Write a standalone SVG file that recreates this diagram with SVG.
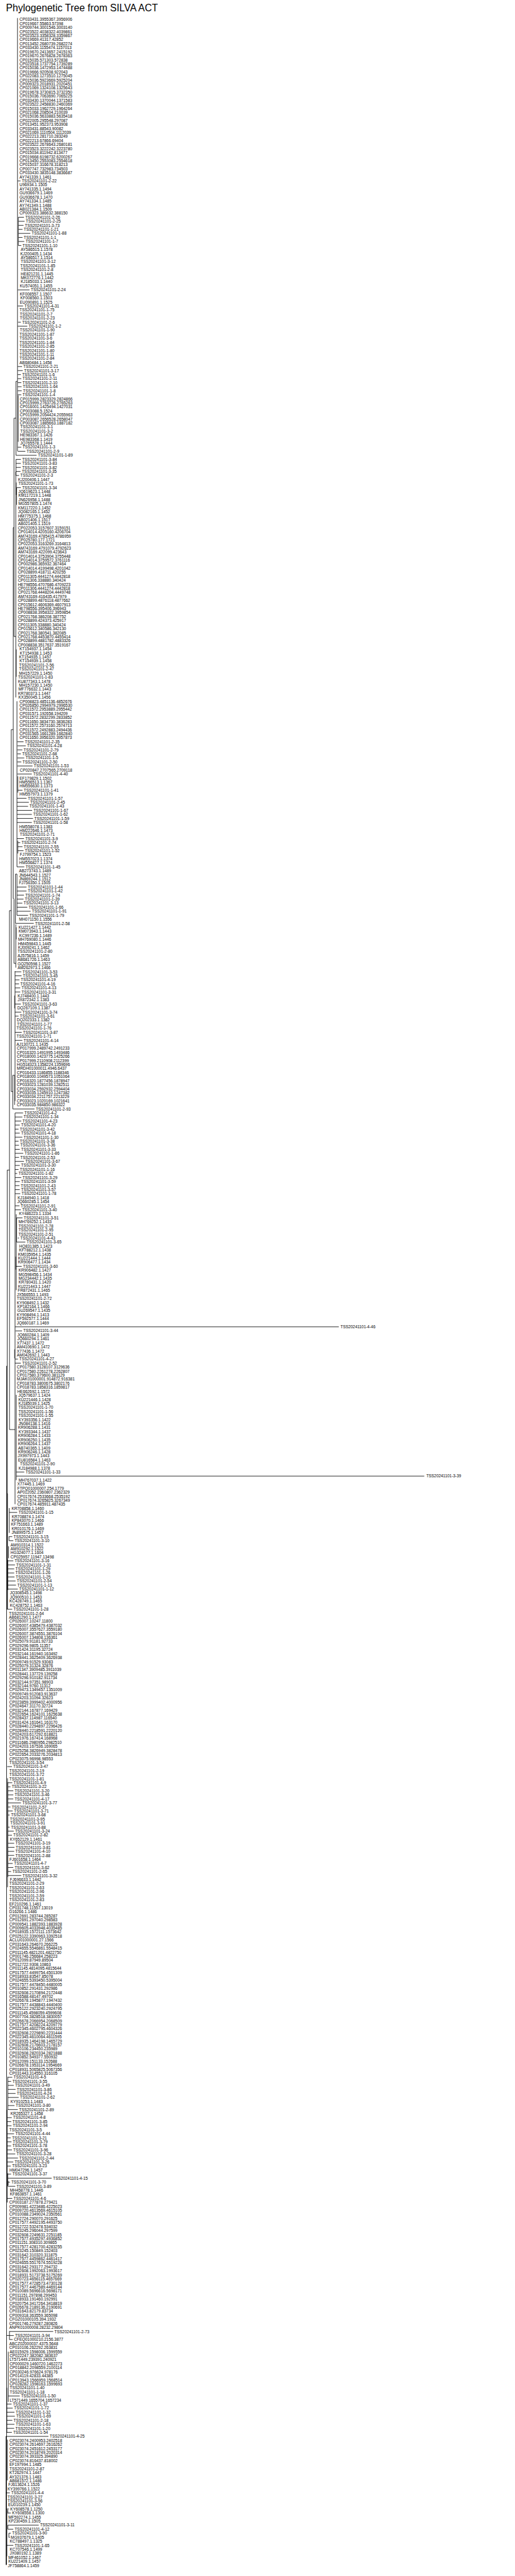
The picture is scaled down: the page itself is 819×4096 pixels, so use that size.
<svg xmlns="http://www.w3.org/2000/svg" width="819" height="4096" viewBox="0 0 819 4096">
<style>
text{font-family:"Liberation Sans",Arial,sans-serif;font-size:9.4px;fill:#000}
.t{font-size:23px}
.e{fill:none;stroke:#000;stroke-width:1.2}
</style>
<rect width="819" height="4096" fill="#fff"/>
<g transform="scale(0.682)">
<g id="title"><text class="t" x="14" y="27">Phylogenetic Tree from SILVA ACT</text></g>
<g id="connectors">
<path class="e" d="M41.4 421.9H47.9M42.8 506.5H55.9M42.8 516H57.3M42.8 525.4H54.9M42.8 534.8H52.4M42.8 544.2H70.7M42.8 553.6H52.4M42.8 563H56.6M42.8 572.4H49.6M41.4 675.9H68.9M41.4 713.5H53.8M42.1 751.1H48.6M41.4 760.5H63.6M41.4 854.6H51.4M41.4 864H53.1M41.4 873.4H48.6M41.4 882.8H49.6M41.4 892.2H49.6M41.4 901.6H50.3M41.4 911H50.7M41.4 920.5H49.6M41.4 1042.7H49.6M41.4 1052.2H59.1M37.2 1061.6H85.4M37.2 1071H48.6M37.2 1080.4H48.6M37.2 1089.8H48.6M37.2 1099.2H47.9M37.2 1108.6H44.4M38.6 1136.8H48.6M40.3 1729.5H54.9M40.3 1738.9H60.1M40.3 1748.3H52.1M40.3 1757.7H48.6M40.3 1767.1H56.6M40.3 1776.5H49.6M40.3 1785.9H75.9M40.3 1804.7H74.2M41.4 1842.3H52.4M39.6 1861.2H61.9M39.6 1870.6H67.2M39.6 1880H65.4M39.6 1889.4H74.9M39.6 1898.8H74.2M39.6 1908.2H77M39.6 1917.6H74.2M39.6 1955.2H55.9M41.4 1964.6H47.2M41.4 1974H52.4M41.4 1983.4H54.9M39.6 2021.1H56.6M39.6 2068.1H61.9M39.6 2077.5H61.9M39.6 2086.9H55.9M39.6 2096.3H54.9M39.6 2105.7H52.1M39.6 2115.1H63.6M39.6 2124.6H71.4M39.6 2134H65.4M36.1 2152.8H78.7M35.1 2265.7H49.6M35.1 2275.1H50.3M35.1 2284.5H45.4M35.1 2293.9H44.4M35.1 2303.3H47.2M35.1 2312.7H47.2M35.1 2340.9H48.6M35.1 2359.7H49.6M35.1 2369.1H43.3M35.1 2406.8H50.7M35.1 2425.6H52.1M29.8 2585.5H80.5M35.1 2594.9H53.8M35.1 2604.3H52.1M35.1 2613.7H49.6M35.1 2623.1H46.1M35.1 2632.5H43.3M35.1 2641.9H46.1M35.1 2651.3H52.1M35.1 2660.7H43.3M35.1 2670.2H44.4M35.1 2679.6H46.1M35.1 2689H54.2M35.1 2698.4H44.4M35.1 2707.8H55.9M35.1 2717.2H46.1M35.1 2726.6H43.3M35.1 2736H40.1M35.1 2745.4H49.6M35.1 2754.8H46.1M35.1 2764.2H45.4M35.1 2773.6H46.1M35.1 2783H47.2M35.1 2811.3H45.4M35.1 2820.7H48.6M38.6 2839.5H52.4M41.4 2886.5H44.4M38.6 2895.9H59.1M36.8 2952.4H50.7M35.1 3093.5H790M36.1 3102.9H51.4M35.1 3168.7H41.9M35.1 3178.1H48.6M37.9 3432.1H56.6M37.9 3441.5H989.3M21.7 3526.2H40.1M21 3582.6H28.6M21 3592.1H31M18.2 3639.1H31M18.2 3648.5H34.9M18.2 3657.9H33.1M18.2 3667.3H33.1M18.2 3676.7H33.8M18.2 3686.1H36.3M18.2 3695.5H37.3M18.2 3705H41.5M16.8 3752H28.6M16.8 4118.8H27.9M18.2 4156.5H28.6M18.2 4165.9H24.4M18.2 4175.3H31M18.2 4184.7H31M18.2 4194.1H31M18.2 4203.5H48.9M18.2 4212.9H24.4M18.2 4222.3H29.6M18.2 4231.7H22.6M18.2 4259.9H22.6M18.2 4269.3H32.1M18.2 4278.8H27.9M18.2 4297.6H33.1M18.2 4307H33.8M18.2 4316.4H33.1M18.2 4325.8H33.1M18.2 4344.6H29.6M18.2 4354H31M18.2 4363.4H25.8M18.2 4372.8H49.6M18.2 4843.2H28.6M18.2 4852.6H25.8M18.2 4862H32.1M18.2 4871.4H36.3M18.2 4880.8H36.3M18.2 4890.2H43.6M18.2 4909H33.8M18.2 4918.4H41.5M16.8 4937.2H27.5M16.8 4946.6H26.1M16.8 4956.1H26.8M16.8 4974.9H32.8M16.8 4984.3H25.1M16.8 4993.7H26.8M16.8 5003.1H25.8M16.8 5012.5H27.9M16.8 5021.9H35.6M16.8 5031.3H41.9M16.8 5040.7H31M16.8 5050.1H25.1M18.2 5068.9H25.8M18.2 5078.3H120.5M19 5087.8H23.3M18.2 5097.2H35.6M16.8 5125.4H28.6M22.1 5435.8H124M22.1 5445.2H32.1M22.1 5454.6H29.6M19 5586.3H46M16 5605.1H27M16 5614.5H29.7M16 5624H33.7M16 5633.4H34.7M16 5642.8H28.7M16 5652.2H33.7M16 5661.6H33M16 5671H27.7M14 5680.4H113M14 5812.1H23M16 5849.7H21M18.3 5859.1H25.3M18.3 5887.3H90.3M18.3 5896.8H31M20.7 5906.2H25.3M20.7 5915.6H23M16 5934.4H31"/>
<path class="e" d="M40.8 42V1052M42.8 506.5V572.4M42.5 922V1030M37.2 889V1061.6M32.6 975V1484M37.2 1071V1108.6M37.9 1125V1154M38.6 1136.8V1177M36.8 1100V1626M30.9 1230V2095M38 1514V1578M39.6 1635V2021M41.4 1810V1848M41.4 1960V1990M36.1 2038V2153M39.6 2038V2134M32.6 2096V2246M37.9 2162V2190M36.8 2155V2256M26.3 1701V2545M22.1 2123V3333M35.1 2264V2567M34 2321V2351M29.8 2507V2585.5M34 2507V2576M16.8 2728V3752M35.1 2595V3507M37.9 2831V3008M38.6 2839V2896M36.8 2930V2960M34 3146V3167M37.9 3252V3451M15.4 3185V5980M21.7 3516V3574M21 3582V3592M20 3605V3633M18.2 3637V3707M17.5 3482V3752M17.5 4146V4400M18.2 4155V4376M18.2 4842V4919M16.8 4919V5135M18.2 5067V5097M19 5085V5095M22.1 5435V5455M19.3 5483V5600M16 5567V5672M17.3 5688V5783M14 5680V5980M16 5849V5960M18.3 5852V5860M18.3 5887V5897M20.7 5906V5916M37.2 889H40.8M32.6 975H37.2M30.9 1230H32.6M32.6 1484H36.8M26.3 1701H30.9M30.9 2095H32.6M36.1 2038H39.6M22.1 2123H26.3M32.6 2246H36.8M26.3 2545H29.8M29.8 2507H34M16.8 2728H22.1M15.4 3185H16.8M22.1 3333H35.1M16.8 3482H17.5M15.4 5445H22.1"/>
</g>
<g id="leaves">
<g id="n1"><text x="45.6" y="49">CP033431.3955367.3956906</text></g>
<g id="n2"><text x="45.6" y="58.4">CP019667.55863.57398</text></g>
<g id="n3"><text x="45.6" y="67.8">CP009744.3001546.3003140</text></g>
<g id="n4"><text x="45.6" y="77.2">CP023522.4038322.4039861</text></g>
<g id="n5"><text x="45.6" y="86.6">CP023523.3358328.3359867</text></g>
<g id="n6"><text x="45.6" y="96">CP019669.41317.42852</text></g>
<g id="n7"><text x="45.6" y="105.4">CP013452.2680739.2682274</text></g>
<g id="n8"><text x="45.6" y="114.8">CP033430.1155474.1157013</text></g>
<g id="n9"><text x="45.6" y="124.3">CP019670.2413657.2415192</text></g>
<g id="n10"><text x="45.6" y="133.7">CP019670.2676828.2678363</text></g>
<g id="n11"><text x="45.6" y="143.1">CP015035.571303.572838</text></g>
<g id="n12"><text x="45.6" y="152.5">CP023518.1737754.1739289</text></g>
<g id="n13"><text x="45.6" y="161.9">CP015036.1472953.1474488</text></g>
<g id="n14"><text x="45.6" y="171.3">CP019666.920508.922043</text></g>
<g id="n15"><text x="45.6" y="180.7">CP022083.1273510.1275045</text></g>
<g id="n16"><text x="45.6" y="190.1">CP015036.5923669.5925204</text></g>
<g id="n17"><text x="45.6" y="199.5">CP009323.2018931.2020451</text></g>
<g id="n18"><text x="45.6" y="208.9">CP021069.1324108.1325643</text></g>
<g id="n19"><text x="45.6" y="218.3">CP019678.3730815.3732350</text></g>
<g id="n20"><text x="45.6" y="227.7">CP015036.7063690.7065225</text></g>
<g id="n21"><text x="45.6" y="237.1">CP033430.1370044.1371583</text></g>
<g id="n22"><text x="45.6" y="246.5">CP023522.2458830.2460369</text></g>
<g id="n23"><text x="45.6" y="256">CP015033.1962729.1964264</text></g>
<g id="n24"><text x="45.6" y="265.4">CP021068.208504.210039</text></g>
<g id="n25"><text x="45.6" y="274.8">CP015036.5633883.5635418</text></g>
<g id="n26"><text x="45.6" y="284.2">CP022005.295548.297087</text></g>
<g id="n27"><text x="45.6" y="293.6">CP013451.952373.953908</text></g>
<g id="n28"><text x="45.6" y="303">CP033431.88543.90082</text></g>
<g id="n29"><text x="45.6" y="312.4">CP021069.1110504.1112039</text></g>
<g id="n30"><text x="45.6" y="321.8">CP022213.281710.283249</text></g>
<g id="n31"><text x="45.6" y="331.2">CP022213.67866.69404</text></g>
<g id="n32"><text x="45.6" y="340.6">CP023522.2678643.2680181</text></g>
<g id="n33"><text x="45.6" y="350">CP023523.3222242.3223780</text></g>
<g id="n34"><text x="45.6" y="359.4">CP015034.811942.813477</text></g>
<g id="n35"><text x="45.6" y="368.8">CP019668.6198732.6200267</text></g>
<g id="n36"><text x="45.6" y="378.2">CP013450.2553083.2554618</text></g>
<g id="n37"><text x="45.6" y="387.7">CP015037.316678.318213</text></g>
<g id="n38"><text x="45.6" y="397.1">CP007747.732983.734503</text></g>
<g id="n39"><text x="45.6" y="406.5">CP033430.3835148.3836687</text></g>
<g id="n40"><text x="45.6" y="415.9">AY741339.1.1461</text></g>
<g id="n41"><text x="50.9" y="425.3">TSS20241101-2-22</text></g>
<g id="n42"><text x="45.6" y="434.7">U96934.1.1505</text></g>
<g id="n43"><text x="45.6" y="444.1">AY741335.1.1494</text></g>
<g id="n44"><text x="45.6" y="453.5">GU936679.1.1469</text></g>
<g id="n45"><text x="45.6" y="462.9">GU936678.1.1470</text></g>
<g id="n46"><text x="45.6" y="472.3">AY741334.1.1485</text></g>
<g id="n47"><text x="45.6" y="481.7">AY741349.1.1488</text></g>
<g id="n48"><text x="45.6" y="491.1">AB021384.1.1509</text></g>
<g id="n49"><text x="45.6" y="500.5">CP009323.386632.388150</text></g>
<g id="n50"><text x="58.9" y="509.9">TSS20241101-2-26</text></g>
<g id="n51"><text x="60.3" y="519.4">TSS20241101-2-25</text></g>
<g id="n52"><text x="57.9" y="528.8">TSS20241101-3-73</text></g>
<g id="n53"><text x="55.4" y="538.2">TSS20241101-1-21</text></g>
<g id="n54"><text x="73.7" y="547.6">TSS20241101-1-88</text></g>
<g id="n55"><text x="55.4" y="557">TSS20241101-1-1</text></g>
<g id="n56"><text x="59.6" y="566.4">TSS20241101-1-7</text></g>
<g id="n57"><text x="52.6" y="575.8">TSS20241101-1-10</text></g>
<g id="n58"><text x="48.4" y="585.2">AY586515.1.1578</text></g>
<g id="n59"><text x="47.4" y="594.6">KJ200405.1.1434</text></g>
<g id="n60"><text x="48.4" y="604">AY586517.1.1514</text></g>
<g id="n61"><text x="48.4" y="613.4">TSS20241101-3-12</text></g>
<g id="n62"><text x="47.4" y="622.8">TSS20241101-1-85</text></g>
<g id="n63"><text x="48.4" y="632.2">TSS20241101-2-8</text></g>
<g id="n64"><text x="48.4" y="641.6">HE821231.1.1445</text></g>
<g id="n65"><text x="48.4" y="651.1">MK072776.1.1442</text></g>
<g id="n66"><text x="48.4" y="660.5">KJ185033.1.1440</text></g>
<g id="n67"><text x="46.3" y="669.9">KU574051.1.1455</text></g>
<g id="n68"><text x="71.9" y="679.3">TSS20241101-2-24</text></g>
<g id="n69"><text x="46.3" y="688.7">KF008557.1.1507</text></g>
<g id="n70"><text x="47.4" y="698.1">KF008560.1.1503</text></g>
<g id="n71"><text x="46.3" y="707.5">EU090891.1.1525</text></g>
<g id="n72"><text x="56.8" y="716.9">TSS20241101-4-31</text></g>
<g id="n73"><text x="45.6" y="726.3">TSS20241101-1-75</text></g>
<g id="n74"><text x="46.3" y="735.7">TSS20241101-2-7</text></g>
<g id="n75"><text x="46.3" y="745.1">TSS20241101-2-23</text></g>
<g id="n76"><text x="51.6" y="754.5">TSS20241101-2-6</text></g>
<g id="n77"><text x="66.6" y="763.9">TSS20241101-1-2</text></g>
<g id="n78"><text x="46.3" y="773.3">TSS20241101-1-90</text></g>
<g id="n79"><text x="45.6" y="782.7">TSS20241101-1-87</text></g>
<g id="n80"><text x="45.6" y="792.2">TSS20241101-3-6</text></g>
<g id="n81"><text x="45.6" y="801.6">TSS20241101-1-84</text></g>
<g id="n82"><text x="45.6" y="811">TSS20241101-2-85</text></g>
<g id="n83"><text x="45.6" y="820.4">TSS20241101-1-80</text></g>
<g id="n84"><text x="45.6" y="829.8">TSS20241101-1-11</text></g>
<g id="n85"><text x="45.6" y="839.2">TSS20241101-2-84</text></g>
<g id="n86"><text x="45.6" y="848.6">AB680484.1.1458</text></g>
<g id="n87"><text x="54.4" y="858">TSS20241101-2-21</text></g>
<g id="n88"><text x="56.1" y="867.4">TSS20241101-3-17</text></g>
<g id="n89"><text x="51.6" y="876.8">TSS20241101-1-6</text></g>
<g id="n90"><text x="52.6" y="886.2">TSS20241101-2-11</text></g>
<g id="n91"><text x="52.6" y="895.6">TSS20241101-2-10</text></g>
<g id="n92"><text x="53.3" y="905">TSS20241101-1-64</text></g>
<g id="n93"><text x="53.7" y="914.4">TSS20241101-1-8</text></g>
<g id="n94"><text x="52.6" y="923.9">TSS20241101-1-4</text></g>
<g id="n95"><text x="46.3" y="933.3">CP015999.2823329.2824866</text></g>
<g id="n96"><text x="46.3" y="942.7">CP015999.2763726.2765263</text></g>
<g id="n97"><text x="46.3" y="952.1">CP016001.1425494.1427031</text></g>
<g id="n98"><text x="46.3" y="961.5">CP003088.5.1524</text></g>
<g id="n99"><text x="46.3" y="970.9">CP015999.2054424.2055963</text></g>
<g id="n100"><text x="46.3" y="980.3">CP003087.2656528.2658047</text></g>
<g id="n101"><text x="46.3" y="989.7">CP003087.1885663.1887182</text></g>
<g id="n102"><text x="47.4" y="999.1">TSS20241101-3-1</text></g>
<g id="n103"><text x="47.4" y="1008.5">TSS20241101-3-2</text></g>
<g id="n104"><text x="46.6" y="1017.9">HE983367.1.1426</text></g>
<g id="n105"><text x="46.6" y="1027.3">HE983368.1.1419</text></g>
<g id="n106"><text x="47.4" y="1036.7">JQ765578.1.1444</text></g>
<g id="n107"><text x="52.6" y="1046.1">TSS20241101-1-3</text></g>
<g id="n108"><text x="62.1" y="1055.6">TSS20241101-2-9</text></g>
<g id="n109"><text x="88.4" y="1065">TSS20241101-1-89</text></g>
<g id="n110"><text x="51.6" y="1074.4">TSS20241101-3-84</text></g>
<g id="n111"><text x="51.6" y="1083.8">TSS20241101-3-83</text></g>
<g id="n112"><text x="51.6" y="1093.2">TSS20241101-3-82</text></g>
<g id="n113"><text x="50.9" y="1102.6">TSS20241101-3-35</text></g>
<g id="n114"><text x="47.4" y="1112">TSS20241101-2-3</text></g>
<g id="n115"><text x="42.1" y="1121.4">KJ200406.1.1447</text></g>
<g id="n116"><text x="42.8" y="1130.8">TSS20241101-1-73</text></g>
<g id="n117"><text x="51.6" y="1140.2">TSS20241101-3-34</text></g>
<g id="n118"><text x="42.8" y="1149.6">JQ619623.1.1448</text></g>
<g id="n119"><text x="42.8" y="1159">KM117219.1.1448</text></g>
<g id="n120"><text x="42.8" y="1168.4">JN626958.1.1488</text></g>
<g id="n121"><text x="42.8" y="1177.8">MG557805.1.1474</text></g>
<g id="n122"><text x="42.1" y="1187.2">KM117220.1.1452</text></g>
<g id="n123"><text x="42.1" y="1196.7">JQ082165.1.1452</text></g>
<g id="n124"><text x="42.1" y="1206.1">HM775375.1.1468</text></g>
<g id="n125"><text x="42.1" y="1215.5">AB021406.1.1517</text></g>
<g id="n126"><text x="42.1" y="1224.9">AB021405.1.1519</text></g>
<g id="n127"><text x="41.7" y="1234.3">CP022053.3157607.3159151</text></g>
<g id="n128"><text x="41.7" y="1243.7">CP014014.4205160.4206704</text></g>
<g id="n129"><text x="41.7" y="1253.1">AM743169.4785415.4786959</text></g>
<g id="n130"><text x="41.7" y="1262.5">CP025780.177.1721</text></g>
<g id="n131"><text x="41.7" y="1271.9">CP022053.3163269.3164813</text></g>
<g id="n132"><text x="41.7" y="1281.3">AM743169.4791079.4792623</text></g>
<g id="n133"><text x="41.7" y="1290.7">AM743169.422099.423643</text></g>
<g id="n134"><text x="41.7" y="1300.1">CP014014.3753904.3755448</text></g>
<g id="n135"><text x="41.7" y="1309.5">CP014014.3759572.3761116</text></g>
<g id="n136"><text x="41.7" y="1318.9">CP002986.365932.367464</text></g>
<g id="n137"><text x="41.7" y="1328.4">CP014014.4199498.4201042</text></g>
<g id="n138"><text x="41.7" y="1337.8">CP028899.418711.420255</text></g>
<g id="n139"><text x="41.7" y="1347.2">CP011305.4441274.4442818</text></g>
<g id="n140"><text x="41.7" y="1356.6">CP011306.338880.340424</text></g>
<g id="n141"><text x="41.7" y="1366">HE798556.4707686.4709223</text></g>
<g id="n142"><text x="41.7" y="1375.4">CP011306.4441274.4442818</text></g>
<g id="n143"><text x="41.7" y="1384.8">CP021768.4448204.4449748</text></g>
<g id="n144"><text x="41.7" y="1394.2">AM743169.416435.417979</text></g>
<g id="n145"><text x="41.7" y="1403.6">CP028899.4876118.4877662</text></g>
<g id="n146"><text x="41.7" y="1413">CP015612.4606369.4607913</text></g>
<g id="n147"><text x="41.7" y="1422.4">HE798556.395406.396943</text></g>
<g id="n148"><text x="41.7" y="1431.8">CP008838.3958322.3959854</text></g>
<g id="n149"><text x="41.7" y="1441.2">CP021768.386208.387752</text></g>
<g id="n150"><text x="41.7" y="1450.6">CP028899.424373.425917</text></g>
<g id="n151"><text x="41.7" y="1460.1">CP011305.338880.340424</text></g>
<g id="n152"><text x="41.7" y="1469.5">CP015612.340586.342130</text></g>
<g id="n153"><text x="41.7" y="1478.9">CP021768.380541.382085</text></g>
<g id="n154"><text x="41.7" y="1488.3">CP021768.4453870.4455414</text></g>
<g id="n155"><text x="41.7" y="1497.7">CP028899.4881782.4883326</text></g>
<g id="n156"><text x="41.7" y="1507.1">CP008838.3517637.3519167</text></g>
<g id="n157"><text x="45.6" y="1516.5">KT154937.1.1454</text></g>
<g id="n158"><text x="46.3" y="1525.9">KT154938.1.1453</text></g>
<g id="n159"><text x="44.5" y="1535.3">KT154935.1.1457</text></g>
<g id="n160"><text x="45.6" y="1544.7">KT154939.1.1458</text></g>
<g id="n161"><text x="44.5" y="1554.1">TSS20241101-2-56</text></g>
<g id="n162"><text x="44.5" y="1563.5">TSS20241101-2-47</text></g>
<g id="n163"><text x="44.5" y="1572.9">MH157229.1.1450</text></g>
<g id="n164"><text x="42.1" y="1582.3">TSS20241101-1-83</text></g>
<g id="n165"><text x="42.1" y="1591.8">KU877343.1.1478</text></g>
<g id="n166"><text x="44.5" y="1601.2">MH157230.1.1450</text></g>
<g id="n167"><text x="42.8" y="1610.6">MF776632.1.1443</text></g>
<g id="n168"><text x="42.1" y="1620">KR780373.1.1447</text></g>
<g id="n169"><text x="42.8" y="1629.4">KX350045.1.1456</text></g>
<g id="n170"><text x="45.6" y="1638.8">CP008823.4851136.4852676</text></g>
<g id="n171"><text x="45.6" y="1648.2">CP026850.2994979.2996530</text></g>
<g id="n172"><text x="45.6" y="1657.6">CP011572.2953889.2955442</text></g>
<g id="n173"><text x="45.6" y="1667">CP031571.192658.194209</text></g>
<g id="n174"><text x="45.6" y="1676.4">CP011572.2832299.2833852</text></g>
<g id="n175"><text x="45.6" y="1685.8">CP011650.3834730.3836283</text></g>
<g id="n176"><text x="45.6" y="1695.2">CP011572.2573160.2574713</text></g>
<g id="n177"><text x="45.6" y="1704.6">CP011572.2492883.2494436</text></g>
<g id="n178"><text x="45.6" y="1714">CP031565.1661289.1662840</text></g>
<g id="n179"><text x="45.6" y="1723.4">CP011650.3956320.3957873</text></g>
<g id="n180"><text x="57.9" y="1732.9">TSS20241101-2-35</text></g>
<g id="n181"><text x="63.1" y="1742.3">TSS20241101-4-28</text></g>
<g id="n182"><text x="55.1" y="1751.7">TSS20241101-2-79</text></g>
<g id="n183"><text x="51.6" y="1761.1">TSS20241101-2-68</text></g>
<g id="n184"><text x="59.6" y="1770.5">TSS20241101-1-5</text></g>
<g id="n185"><text x="52.6" y="1779.9">TSS20241101-2-50</text></g>
<g id="n186"><text x="78.9" y="1789.3">TSS20241101-1-53</text></g>
<g id="n187"><text x="46.3" y="1798.7">CP020847.2707565.2709118</text></g>
<g id="n188"><text x="77.2" y="1808.1">TSS20241101-4-40</text></g>
<g id="n189"><text x="45.6" y="1817.5">EF179829.1.1502</text></g>
<g id="n190"><text x="44.9" y="1826.9">HM556513.1.1367</text></g>
<g id="n191"><text x="45.6" y="1836.3">HM556630.1.1373</text></g>
<g id="n192"><text x="55.4" y="1845.7">TSS20241101-1-41</text></g>
<g id="n193"><text x="45.6" y="1855.1">HM557973.1.1379</text></g>
<g id="n194"><text x="64.9" y="1864.6">TSS20241101-1-57</text></g>
<g id="n195"><text x="70.2" y="1874">TSS20241101-2-45</text></g>
<g id="n196"><text x="68.4" y="1883.4">TSS20241101-1-43</text></g>
<g id="n197"><text x="77.9" y="1892.8">TSS20241101-1-67</text></g>
<g id="n198"><text x="77.2" y="1902.2">TSS20241101-1-62</text></g>
<g id="n199"><text x="80" y="1911.6">TSS20241101-1-59</text></g>
<g id="n200"><text x="77.2" y="1921">TSS20241101-1-58</text></g>
<g id="n201"><text x="44.9" y="1930.4">HM558078.1.1383</text></g>
<g id="n202"><text x="45.6" y="1939.8">HM222646.1.1473</text></g>
<g id="n203"><text x="46.3" y="1949.2">TSS20241101-2-71</text></g>
<g id="n204"><text x="58.9" y="1958.6">TSS20241101-3-9</text></g>
<g id="n205"><text x="50.2" y="1968">TSS20241101-2-74</text></g>
<g id="n206"><text x="55.4" y="1977.4">TSS20241101-2-55</text></g>
<g id="n207"><text x="57.9" y="1986.8">TSS20241101-1-52</text></g>
<g id="n208"><text x="46.3" y="1996.3">FJ799754.1.1523</text></g>
<g id="n209"><text x="44.9" y="2005.7">HM557023.1.1374</text></g>
<g id="n210"><text x="44.9" y="2015.1">HM556827.1.1374</text></g>
<g id="n211"><text x="59.6" y="2024.5">TSS20241101-1-45</text></g>
<g id="n212"><text x="44.2" y="2033.9">AB273743.1.1489</text></g>
<g id="n213"><text x="44.2" y="2043.3">JN644543.1.1527</text></g>
<g id="n214"><text x="44.2" y="2052.7">JN869244.1.1512</text></g>
<g id="n215"><text x="44.2" y="2062.1">FJ756350.1.1505</text></g>
<g id="n216"><text x="64.9" y="2071.5">TSS20241101-1-44</text></g>
<g id="n217"><text x="64.9" y="2080.9">TSS20241101-1-42</text></g>
<g id="n218"><text x="58.9" y="2090.3">TSS20241101-1-74</text></g>
<g id="n219"><text x="57.9" y="2099.7">TSS20241101-1-39</text></g>
<g id="n220"><text x="55.1" y="2109.1">TSS20241101-3-13</text></g>
<g id="n221"><text x="66.6" y="2118.5">TSS20241101-1-66</text></g>
<g id="n222"><text x="74.4" y="2128">TSS20241101-1-91</text></g>
<g id="n223"><text x="68.4" y="2137.4">TSS20241101-1-79</text></g>
<g id="n224"><text x="44.2" y="2146.8">MH071150.1.1556</text></g>
<g id="n225"><text x="81.7" y="2156.2">TSS20241101-2-58</text></g>
<g id="n226"><text x="43.1" y="2165.6">KU221427.1.1442</text></g>
<g id="n227"><text x="43.1" y="2175">KM073943.1.1443</text></g>
<g id="n228"><text x="44.9" y="2184.4">KC997236.1.1489</text></g>
<g id="n229"><text x="42.1" y="2193.8">MH769080.1.1446</text></g>
<g id="n230"><text x="42.1" y="2203.2">HM459843.1.1445</text></g>
<g id="n231"><text x="42.1" y="2212.6">KJ009241.1.1462</text></g>
<g id="n232"><text x="41" y="2222">TSS20241101-2-80</text></g>
<g id="n233"><text x="41" y="2231.4">AJ575816.1.1459</text></g>
<g id="n234"><text x="41" y="2240.8">AB681726.1.1463</text></g>
<g id="n235"><text x="41" y="2250.2">GQ250598.1.1527</text></g>
<g id="n236"><text x="41" y="2259.7">AM262973.1.1466</text></g>
<g id="n237"><text x="52.6" y="2269.1">TSS20241101-3-53</text></g>
<g id="n238"><text x="53.3" y="2278.5">TSS20241101-3-45</text></g>
<g id="n239"><text x="48.4" y="2287.9">TSS20241101-4-19</text></g>
<g id="n240"><text x="47.4" y="2297.3">TSS20241101-4-16</text></g>
<g id="n241"><text x="50.2" y="2306.7">TSS20241101-4-13</text></g>
<g id="n242"><text x="50.2" y="2316.1">TSS20241101-3-31</text></g>
<g id="n243"><text x="41" y="2325.5">KJ748400.1.1443</text></g>
<g id="n244"><text x="41" y="2334.9">JX872342.1.1383</text></g>
<g id="n245"><text x="51.6" y="2344.3">TSS20241101-3-63</text></g>
<g id="n246"><text x="40.3" y="2353.7">DQ267109.1.1387</text></g>
<g id="n247"><text x="52.6" y="2363.1">TSS20241101-3-74</text></g>
<g id="n248"><text x="46.3" y="2372.5">TSS20241101-3-61</text></g>
<g id="n249"><text x="39.3" y="2381.9">DQ202333.1.1382</text></g>
<g id="n250"><text x="39.6" y="2391.3">TSS20241101-1-77</text></g>
<g id="n251"><text x="38.6" y="2400.8">TSS20241101-1-76</text></g>
<g id="n252"><text x="53.7" y="2410.2">TSS20241101-3-87</text></g>
<g id="n253"><text x="38.6" y="2419.6">TSS20241101-1-71</text></g>
<g id="n254"><text x="55.1" y="2429">TSS20241101-4-14</text></g>
<g id="n255"><text x="38.6" y="2438.4">AJ130721.1.1435</text></g>
<g id="n256"><text x="39.3" y="2447.8">CP017999.2489742.2491233</text></g>
<g id="n257"><text x="39.3" y="2457.2">CP016320.1491995.1493486</text></g>
<g id="n258"><text x="39.3" y="2466.6">CP018000.1423775.1425266</text></g>
<g id="n259"><text x="39.3" y="2476">CP017999.2110908.2112399</text></g>
<g id="n260"><text x="39.3" y="2485.4">HG518323.1358224.1359696</text></g>
<g id="n261"><text x="39.3" y="2494.8">MRDH01000011.4946.6437</text></g>
<g id="n262"><text x="39.3" y="2504.2">CP016433.1186855.1188346</text></g>
<g id="n263"><text x="39.3" y="2513.6">CP018000.1049573.1051064</text></g>
<g id="n264"><text x="39.3" y="2523">CP016320.1877456.1878947</text></g>
<g id="n265"><text x="39.3" y="2532.5">CP033023.1281039.1282511</text></g>
<g id="n266"><text x="39.3" y="2541.9">CP033034.2592932.2594404</text></g>
<g id="n267"><text x="39.3" y="2551.3">CP033035.1245910.1247382</text></g>
<g id="n268"><text x="39.3" y="2560.7">CP033034.2211757.2213229</text></g>
<g id="n269"><text x="39.3" y="2570.1">CP033023.1020169.1021641</text></g>
<g id="n270"><text x="39.3" y="2579.5">CP033035.984850.986322</text></g>
<g id="n271"><text x="83.5" y="2588.9">TSS20241101-2-93</text></g>
<g id="n272"><text x="56.8" y="2598.3">TSS20241101-4-2</text></g>
<g id="n273"><text x="55.1" y="2607.7">TSS20241101-1-34</text></g>
<g id="n274"><text x="52.6" y="2617.1">TSS20241101-4-23</text></g>
<g id="n275"><text x="49.1" y="2626.5">TSS20241101-4-20</text></g>
<g id="n276"><text x="46.3" y="2635.9">TSS20241101-3-42</text></g>
<g id="n277"><text x="49.1" y="2645.3">TSS20241101-4-18</text></g>
<g id="n278"><text x="55.1" y="2654.7">TSS20241101-1-30</text></g>
<g id="n279"><text x="46.3" y="2664.1">TSS20241101-3-38</text></g>
<g id="n280"><text x="47.4" y="2673.6">TSS20241101-3-36</text></g>
<g id="n281"><text x="49.1" y="2683">TSS20241101-3-33</text></g>
<g id="n282"><text x="57.2" y="2692.4">TSS20241101-1-86</text></g>
<g id="n283"><text x="47.4" y="2701.8">TSS20241101-2-53</text></g>
<g id="n284"><text x="58.9" y="2711.2">TSS20241101-3-67</text></g>
<g id="n285"><text x="49.1" y="2720.6">TSS20241101-3-30</text></g>
<g id="n286"><text x="46.3" y="2730">TSS20241101-1-16</text></g>
<g id="n287"><text x="43.1" y="2739.4">TSS20241101-1-82</text></g>
<g id="n288"><text x="52.6" y="2748.8">TSS20241101-3-29</text></g>
<g id="n289"><text x="49.1" y="2758.2">TSS20241101-3-59</text></g>
<g id="n290"><text x="48.4" y="2767.6">TSS20241101-2-43</text></g>
<g id="n291"><text x="49.1" y="2777">TSS20241101-3-57</text></g>
<g id="n292"><text x="50.2" y="2786.4">TSS20241101-1-78</text></g>
<g id="n293"><text x="41" y="2795.8">KJ184940.1.1418</text></g>
<g id="n294"><text x="40.3" y="2805.3">JQ660285.1.1454</text></g>
<g id="n295"><text x="48.4" y="2814.7">TSS20241101-2-91</text></g>
<g id="n296"><text x="51.6" y="2824.1">TSS20241101-3-40</text></g>
<g id="n297"><text x="44.2" y="2833.5">KY486223.1.1334</text></g>
<g id="n298"><text x="55.4" y="2842.9">TSS20241101-3-51</text></g>
<g id="n299"><text x="43.1" y="2852.3">MH769252.1.1433</text></g>
<g id="n300"><text x="43.1" y="2861.7">TSS20241101-2-78</text></g>
<g id="n301"><text x="43.1" y="2871.1">TSS20241101-2-95</text></g>
<g id="n302"><text x="43.1" y="2880.5">TSS20241101-2-51</text></g>
<g id="n303"><text x="47.4" y="2889.9">TSS20241101-4-43</text></g>
<g id="n304"><text x="62.1" y="2899.3">TSS20241101-3-65</text></g>
<g id="n305"><text x="44.9" y="2908.7">HQ831385.1.1423</text></g>
<g id="n306"><text x="44.2" y="2918.1">KF788212.1.1438</text></g>
<g id="n307"><text x="42.1" y="2927.5">KM035954.1.1435</text></g>
<g id="n308"><text x="42.1" y="2937">KU221444.1.1444</text></g>
<g id="n309"><text x="42.1" y="2946.4">KR906477.1.1434</text></g>
<g id="n310"><text x="53.7" y="2955.8">TSS20241101-3-60</text></g>
<g id="n311"><text x="43.1" y="2965.2">KR906482.1.1427</text></g>
<g id="n312"><text x="43.1" y="2974.6">MG598456.1.1434</text></g>
<g id="n313"><text x="43.1" y="2984">MG234442.1.1435</text></g>
<g id="n314"><text x="43.1" y="2993.4">KR780431.1.1420</text></g>
<g id="n315"><text x="42.1" y="3002.8">KU221443.1.1447</text></g>
<g id="n316"><text x="41.4" y="3012.2">FR872431.1.1465</text></g>
<g id="n317"><text x="39.3" y="3021.6">JX566553.1.1493</text></g>
<g id="n318"><text x="39.3" y="3031">TSS20241101-2-72</text></g>
<g id="n319"><text x="39.3" y="3040.4">KY908492.1.1432</text></g>
<g id="n320"><text x="40.3" y="3049.8">KP182164.1.1466</text></g>
<g id="n321"><text x="40.3" y="3059.2">GU269547.1.1435</text></g>
<g id="n322"><text x="39.3" y="3068.6">KY908494.1.1413</text></g>
<g id="n323"><text x="39.3" y="3078.1">EF592577.1.1444</text></g>
<g id="n324"><text x="39.3" y="3087.5">JQ660187.1.1469</text></g>
<g id="n325"><text x="794" y="3096.9">TSS20241101-4-46</text></g>
<g id="n326"><text x="54.4" y="3106.3">TSS20241101-3-44</text></g>
<g id="n327"><text x="40.3" y="3115.7">JQ660284.1.1409</text></g>
<g id="n328"><text x="40.3" y="3125.1">JQ660294.1.1461</text></g>
<g id="n329"><text x="39.3" y="3134.5">X77437.1.1472</text></g>
<g id="n330"><text x="39.3" y="3143.9">AM410690.1.1472</text></g>
<g id="n331"><text x="39.3" y="3153.3">X77436.1.1472</text></g>
<g id="n332"><text x="39.3" y="3162.7">AM042692.1.1443</text></g>
<g id="n333"><text x="44.9" y="3172.1">TSS20241101-4-27</text></g>
<g id="n334"><text x="51.6" y="3181.5">TSS20241101-2-52</text></g>
<g id="n335"><text x="39.3" y="3190.9">CP017580.3128107.3129636</text></g>
<g id="n336"><text x="39.3" y="3200.4">CP017580.2261278.2262807</text></g>
<g id="n337"><text x="39.3" y="3209.8">CP017580.379600.381129</text></g>
<g id="n338"><text x="39.3" y="3219.2">MJAK01000001.914872.916381</text></g>
<g id="n339"><text x="39.3" y="3228.6">CP018783.3800675.3802176</text></g>
<g id="n340"><text x="39.3" y="3238">CP018783.1858316.1859817</text></g>
<g id="n341"><text x="40.3" y="3247.4">HE662692.1.1572</text></g>
<g id="n342"><text x="42.8" y="3256.8">JQ579637.1.1424</text></g>
<g id="n343"><text x="42.8" y="3266.2">KU221446.1.1428</text></g>
<g id="n344"><text x="42.8" y="3275.6">KJ185039.1.1425</text></g>
<g id="n345"><text x="42.8" y="3285">TSS20241101-1-70</text></g>
<g id="n346"><text x="42.8" y="3294.4">TSS20241101-1-56</text></g>
<g id="n347"><text x="42.8" y="3303.8">TSS20241101-1-55</text></g>
<g id="n348"><text x="43.1" y="3313.2">KY393356.1.1422</text></g>
<g id="n349"><text x="43.1" y="3322.7">JN084138.1.1416</text></g>
<g id="n350"><text x="42.1" y="3332.1">KR906288.1.1431</text></g>
<g id="n351"><text x="43.1" y="3341.5">KY393344.1.1437</text></g>
<g id="n352"><text x="42.1" y="3350.9">KR906284.1.1433</text></g>
<g id="n353"><text x="42.1" y="3360.3">KR906250.1.1435</text></g>
<g id="n354"><text x="42.1" y="3369.7">KR906264.1.1437</text></g>
<g id="n355"><text x="42.1" y="3379.1">AB740365.1.1409</text></g>
<g id="n356"><text x="42.1" y="3388.5">KR906246.1.1428</text></g>
<g id="n357"><text x="41.4" y="3397.9">JX997973.1.1443</text></g>
<g id="n358"><text x="42.1" y="3407.3">EU816584.1.1463</text></g>
<g id="n359"><text x="46.6" y="3416.7">TSS20241101-2-90</text></g>
<g id="n360"><text x="43.1" y="3426.1">KJ184988.1.1378</text></g>
<g id="n361"><text x="59.6" y="3435.5">TSS20241101-1-33</text></g>
<g id="n362"><text x="994" y="3444.9">TSS20241101-3-39</text></g>
<g id="n363"><text x="43.1" y="3454.4">MH767037.1.1422</text></g>
<g id="n364"><text x="40.3" y="3463.8">X77445.1.1469</text></g>
<g id="n365"><text x="40.3" y="3473.2">FTPQ01000007.254.1779</text></g>
<g id="n366"><text x="40.3" y="3482.6">AP012052.2360807.2362329</text></g>
<g id="n367"><text x="40.3" y="3492">CP017674.2533668.2535192</text></g>
<g id="n368"><text x="40.3" y="3501.4">CP017674.3265825.3267349</text></g>
<g id="n369"><text x="40.3" y="3510.8">CP017674.485911.487435</text></g>
<g id="n370"><text x="27" y="3520.2">KR708858.1.1460</text></g>
<g id="n371"><text x="43.1" y="3529.6">TSS20241101-1-15</text></g>
<g id="n372"><text x="27.4" y="3539">KR708874.1.1474</text></g>
<g id="n373"><text x="27" y="3548.4">KP843070.1.1466</text></g>
<g id="n374"><text x="25.6" y="3557.8">KF751663.1.1489</text></g>
<g id="n375"><text x="27" y="3567.2">KR010176.1.1469</text></g>
<g id="n376"><text x="27" y="3576.6">JN899575.1.1457</text></g>
<g id="n377"><text x="31.6" y="3586">TSS20241101-3-15</text></g>
<g id="n378"><text x="34" y="3595.5">TSS20241101-3-10</text></g>
<g id="n379"><text x="24.6" y="3604.9">AM910314.1.1522</text></g>
<g id="n380"><text x="24.6" y="3614.3">AM910292.1.1522</text></g>
<g id="n381"><text x="24.6" y="3623.7">HG324077.1.1604</text></g>
<g id="n382"><text x="24.6" y="3633.1">CP025957.11947.13498</text></g>
<g id="n383"><text x="34" y="3642.5">TSS20241101-3-16</text></g>
<g id="n384"><text x="37.9" y="3651.9">TSS20241101-1-31</text></g>
<g id="n385"><text x="36.1" y="3661.3">TSS20241101-1-29</text></g>
<g id="n386"><text x="36.1" y="3670.7">TSS20241101-1-26</text></g>
<g id="n387"><text x="36.8" y="3680.1">TSS20241101-1-25</text></g>
<g id="n388"><text x="39.3" y="3689.5">TSS20241101-2-54</text></g>
<g id="n389"><text x="40.3" y="3698.9">TSS20241101-1-13</text></g>
<g id="n390"><text x="44.5" y="3708.4">TSS20241101-1-12</text></g>
<g id="n391"><text x="23.1" y="3717.7">JQ308545.1.1498</text></g>
<g id="n392"><text x="23.1" y="3727.1">JQ900510.1.1453</text></g>
<g id="n393"><text x="22.1" y="3736.5">KC428749.1.1465</text></g>
<g id="n394"><text x="23.1" y="3746">KC428752.1.1463</text></g>
<g id="n395"><text x="31.6" y="3755.4">TSS20241101-1-28</text></g>
<g id="n396"><text x="21" y="3764.8">TSS20241101-2-64</text></g>
<g id="n397"><text x="21" y="3774.2">AB681290.1.1477</text></g>
<g id="n398"><text x="21.7" y="3783.6">CP026007.10247.11800</text></g>
<g id="n399"><text x="21.7" y="3793">CP026007.4385479.4387032</text></g>
<g id="n400"><text x="21.7" y="3802.4">CP026007.3557627.3559180</text></g>
<g id="n401"><text x="21.7" y="3811.8">CP026007.3874551.3876104</text></g>
<g id="n402"><text x="21.7" y="3821.2">CP026007.134808.136361</text></g>
<g id="n403"><text x="21.7" y="3830.6">CP025079.91181.92733</text></g>
<g id="n404"><text x="21.7" y="3840">CP029296.9805.11357</text></g>
<g id="n405"><text x="21.7" y="3849.4">CP031424.31195.32724</text></g>
<g id="n406"><text x="21.7" y="3858.8">CP032144.161940.163492</text></g>
<g id="n407"><text x="21.7" y="3868.2">CP028441.3625409.3626938</text></g>
<g id="n408"><text x="21.7" y="3877.7">CP009749.91529.93083</text></g>
<g id="n409"><text x="21.7" y="3887.1">CP025079.31324.32876</text></g>
<g id="n410"><text x="21.7" y="3896.5">CP011347.3909485.3911039</text></g>
<g id="n411"><text x="21.7" y="3905.9">CP028441.137729.139258</text></g>
<g id="n412"><text x="21.7" y="3915.3">CP029296.910182.911734</text></g>
<g id="n413"><text x="21.7" y="3924.7">CP032144.97351.98903</text></g>
<g id="n414"><text x="21.7" y="3934.1">CP032144.9760.11312</text></g>
<g id="n415"><text x="21.7" y="3943.5">CP029473.1349457.1351009</text></g>
<g id="n416"><text x="21.7" y="3952.9">CP009749.912083.913637</text></g>
<g id="n417"><text x="21.7" y="3962.3">CP024203.31094.32623</text></g>
<g id="n418"><text x="21.7" y="3971.7">CP023859.3999402.4000956</text></g>
<g id="n419"><text x="21.7" y="3981.1">CP024647.31170.32724</text></g>
<g id="n420"><text x="21.7" y="3990.5">CP032144.167877.169429</text></g>
<g id="n421"><text x="21.7" y="3999.9">CP022654.1624101.1625638</text></g>
<g id="n422"><text x="21.7" y="4009.3">CP028437.114987.116540</text></g>
<g id="n423"><text x="21.7" y="4018.8">CP031424.161641.163170</text></g>
<g id="n424"><text x="21.7" y="4028.2">CP028440.2294897.2296426</text></g>
<g id="n425"><text x="21.7" y="4037.6">CP028440.2218591.2220120</text></g>
<g id="n426"><text x="21.7" y="4047">CP024203.617292.618821</text></g>
<g id="n427"><text x="21.7" y="4056.4">CP021976.167414.168968</text></g>
<g id="n428"><text x="21.7" y="4065.8">CP011686.2980956.2982510</text></g>
<g id="n429"><text x="21.7" y="4075.2">CP024203.167536.169065</text></g>
<g id="n430"><text x="21.7" y="4084.6">CP025258.3826949.3828478</text></g>
<g id="n431"><text x="21.7" y="4094">CP022654.2033276.2034813</text></g>
<g id="n432"><text x="21.7" y="4103.4">CP023075.96998.98553</text></g>
<g id="n433"><text x="21.7" y="4112.8">TSS20241101-3-54</text></g>
<g id="n434"><text x="30.9" y="4122.2">TSS20241101-3-47</text></g>
<g id="n435"><text x="21.7" y="4131.6">TSS20241101-2-19</text></g>
<g id="n436"><text x="21.7" y="4141">TSS20241101-3-72</text></g>
<g id="n437"><text x="21.7" y="4150.5">TSS20241101-1-81</text></g>
<g id="n438"><text x="31.6" y="4159.9">TSS20241101-4-9</text></g>
<g id="n439"><text x="27.4" y="4169.3">TSS20241101-3-22</text></g>
<g id="n440"><text x="34" y="4178.7">TSS20241101-3-20</text></g>
<g id="n441"><text x="34" y="4188.1">TSS20241101-3-46</text></g>
<g id="n442"><text x="34" y="4197.5">TSS20241101-4-17</text></g>
<g id="n443"><text x="51.9" y="4206.9">TSS20241101-3-77</text></g>
<g id="n444"><text x="27.4" y="4216.3">TSS20241101-2-57</text></g>
<g id="n445"><text x="32.6" y="4225.7">TSS20241101-3-71</text></g>
<g id="n446"><text x="25.6" y="4235.1">TSS20241101-3-68</text></g>
<g id="n447"><text x="23.1" y="4244.5">TSS20241101-3-95</text></g>
<g id="n448"><text x="23.9" y="4253.9">TSS20241101-3-91</text></g>
<g id="n449"><text x="25.6" y="4263.3">TSS20241101-3-88</text></g>
<g id="n450"><text x="35.1" y="4272.7">TSS20241101-3-24</text></g>
<g id="n451"><text x="30.9" y="4282.2">TSS20241101-2-82</text></g>
<g id="n452"><text x="23.1" y="4291.6">KY652129.1.1461</text></g>
<g id="n453"><text x="36.1" y="4301">TSS20241101-3-19</text></g>
<g id="n454"><text x="36.8" y="4310.4">TSS20241101-3-81</text></g>
<g id="n455"><text x="36.1" y="4319.8">TSS20241101-4-10</text></g>
<g id="n456"><text x="36.1" y="4329.2">TSS20241101-2-88</text></g>
<g id="n457"><text x="22.1" y="4338.6">FJ601658.1.1464</text></g>
<g id="n458"><text x="32.6" y="4348">TSS20241101-4-7</text></g>
<g id="n459"><text x="34" y="4357.4">TSS20241101-3-62</text></g>
<g id="n460"><text x="28.8" y="4366.8">TSS20241101-2-65</text></g>
<g id="n461"><text x="52.6" y="4376.2">TSS20241101-3-32</text></g>
<g id="n462"><text x="23.1" y="4385.6">FJ696633.1.1442</text></g>
<g id="n463"><text x="21.7" y="4395">TSS20241101-2-29</text></g>
<g id="n464"><text x="21.7" y="4404.4">TSS20241101-2-63</text></g>
<g id="n465"><text x="21.7" y="4413.9">TSS20241101-2-96</text></g>
<g id="n466"><text x="21.7" y="4423.3">TSS20241101-2-59</text></g>
<g id="n467"><text x="21.7" y="4432.7">TSS20241101-2-83</text></g>
<g id="n468"><text x="21.7" y="4442.1">EF210296.1.1461</text></g>
<g id="n469"><text x="21.7" y="4451.5">CP031748.11557.13019</text></g>
<g id="n470"><text x="21.7" y="4460.9">D16266.1.1486</text></g>
<g id="n471"><text x="21.7" y="4470.3">CP012691.283744.285287</text></g>
<g id="n472"><text x="21.7" y="4479.7">CP012691.297040.298583</text></g>
<g id="n473"><text x="21.7" y="4489.1">CP009541.1882393.1883928</text></g>
<g id="n474"><text x="21.7" y="4498.5">CP009605.4033948.4035485</text></g>
<g id="n475"><text x="21.7" y="4507.9">CP018935.1572111.1573642</text></g>
<g id="n476"><text x="21.7" y="4517.3">CP025122.3390963.3392518</text></g>
<g id="n477"><text x="21.7" y="4526.7">ACLU01000001.27.1566</text></g>
<g id="n478"><text x="21.7" y="4536.1">CP031643.264670.266225</text></g>
<g id="n479"><text x="21.7" y="4545.5">CP024655.5546861.5548415</text></g>
<g id="n480"><text x="21.7" y="4555">CP011145.4821201.4822750</text></g>
<g id="n481"><text x="21.7" y="4564.4">CP001746.256684.258223</text></g>
<g id="n482"><text x="21.7" y="4573.8">CP012099.87949.89504</text></g>
<g id="n483"><text x="21.7" y="4583.2">CP012722.9308.10863</text></g>
<g id="n484"><text x="21.7" y="4592.6">CP011145.4814095.4815644</text></g>
<g id="n485"><text x="21.7" y="4602">CP017577.4499754.4501309</text></g>
<g id="n486"><text x="21.7" y="4611.4">CP018933.83547.85078</text></g>
<g id="n487"><text x="21.7" y="4620.8">CP024655.5393450.5395004</text></g>
<g id="n488"><text x="21.7" y="4630.2">CP017577.4478450.4480005</text></g>
<g id="n489"><text x="21.7" y="4639.6">CP010852.291431.292986</text></g>
<g id="n490"><text x="21.7" y="4649">CP032608.2170894.2172448</text></g>
<g id="n491"><text x="21.7" y="4658.4">CP016588.48147.49702</text></g>
<g id="n492"><text x="21.7" y="4667.8">CP026678.1945877.1947432</text></g>
<g id="n493"><text x="21.7" y="4677.3">CP017577.4438843.4440400</text></g>
<g id="n494"><text x="21.7" y="4686.7">CP025122.2923240.2924795</text></g>
<g id="n495"><text x="21.7" y="4696.1">CP011145.4598059.4599608</text></g>
<g id="n496"><text x="21.7" y="4705.5">CP007704.3828518.3830057</text></g>
<g id="n497"><text x="21.7" y="4714.9">CP026678.2066954.2068509</text></g>
<g id="n498"><text x="21.7" y="4724.3">CP017577.4208224.4209779</text></g>
<g id="n499"><text x="21.7" y="4733.7">CP022345.4602795.4604326</text></g>
<g id="n500"><text x="21.7" y="4743.1">CP032608.2229890.2231444</text></g>
<g id="n501"><text x="21.7" y="4752.5">CP022345.4610064.4611595</text></g>
<g id="n502"><text x="21.7" y="4761.9">CP018935.1464198.1465729</text></g>
<g id="n503"><text x="21.7" y="4771.3">CP032608.2176603.2178157</text></g>
<g id="n504"><text x="21.7" y="4780.7">CP010106.234450.235989</text></g>
<g id="n505"><text x="21.7" y="4790.1">CP032608.2820334.2821888</text></g>
<g id="n506"><text x="21.7" y="4799.5">CP010852.549377.550932</text></g>
<g id="n507"><text x="21.7" y="4809">CP012099.151133.152688</text></g>
<g id="n508"><text x="21.7" y="4818.4">CP026678.1953114.1954669</text></g>
<g id="n509"><text x="21.7" y="4827.8">CP018931.5065825.5067356</text></g>
<g id="n510"><text x="21.7" y="4837.2">CP031443.314550.316105</text></g>
<g id="n511"><text x="31.6" y="4846.6">TSS20241101-4-5</text></g>
<g id="n512"><text x="28.8" y="4856">TSS20241101-3-55</text></g>
<g id="n513"><text x="35.1" y="4865.4">TSS20241101-3-49</text></g>
<g id="n514"><text x="39.3" y="4874.8">TSS20241101-3-86</text></g>
<g id="n515"><text x="39.3" y="4884.2">TSS20241101-4-24</text></g>
<g id="n516"><text x="46.6" y="4893.6">TSS20241101-2-62</text></g>
<g id="n517"><text x="24.6" y="4903">KY910253.1.1483</text></g>
<g id="n518"><text x="36.8" y="4912.4">TSS20241101-3-80</text></g>
<g id="n519"><text x="44.5" y="4921.8">TSS20241101-2-89</text></g>
<g id="n520"><text x="24.6" y="4931.2">KR265327.1.1458</text></g>
<g id="n521"><text x="30.5" y="4940.6">TSS20241101-4-8</text></g>
<g id="n522"><text x="29.1" y="4950">TSS20241101-3-85</text></g>
<g id="n523"><text x="29.8" y="4959.5">TSS20241101-2-94</text></g>
<g id="n524"><text x="21.7" y="4968.9">TSS20241101-3-5</text></g>
<g id="n525"><text x="35.8" y="4978.3">TSS20241101-4-44</text></g>
<g id="n526"><text x="28.1" y="4987.7">TSS20241101-3-21</text></g>
<g id="n527"><text x="29.8" y="4997.1">TSS20241101-3-79</text></g>
<g id="n528"><text x="28.8" y="5006.5">TSS20241101-3-78</text></g>
<g id="n529"><text x="30.9" y="5015.9">TSS20241101-3-96</text></g>
<g id="n530"><text x="38.6" y="5025.3">TSS20241101-3-28</text></g>
<g id="n531"><text x="44.9" y="5034.7">TSS20241101-2-44</text></g>
<g id="n532"><text x="34" y="5044.1">TSS20241101-3-26</text></g>
<g id="n533"><text x="28.1" y="5053.5">TSS20241101-3-23</text></g>
<g id="n534"><text x="22.1" y="5062.9">HM047296.1.1457</text></g>
<g id="n535"><text x="28.8" y="5072.3">TSS20241101-3-37</text></g>
<g id="n536"><text x="123.5" y="5081.7">TSS20241101-4-15</text></g>
<g id="n537"><text x="26.3" y="5091.2">TSS20241101-3-70</text></g>
<g id="n538"><text x="38.6" y="5100.6">TSS20241101-3-89</text></g>
<g id="n539"><text x="23.1" y="5110">MH458778.1.1446</text></g>
<g id="n540"><text x="23.1" y="5119.4">KF863857.1.1461</text></g>
<g id="n541"><text x="31.6" y="5128.8">TSS20241101-4-6</text></g>
<g id="n542"><text x="21.7" y="5138.2">CP003187.277878.279421</text></g>
<g id="n543"><text x="21.7" y="5147.6">CP009981.4223486.4225023</text></g>
<g id="n544"><text x="21.7" y="5157">CP009720.4613569.4615105</text></g>
<g id="n545"><text x="21.7" y="5166.4">CP010088.2349024.2350561</text></g>
<g id="n546"><text x="21.7" y="5175.8">CP012724.290070.291625</text></g>
<g id="n547"><text x="21.7" y="5185.2">CP017577.4492195.4493750</text></g>
<g id="n548"><text x="21.7" y="5194.6">CP012722.532478.534032</text></g>
<g id="n549"><text x="21.7" y="5204">CP023245.296044.297599</text></g>
<g id="n550"><text x="21.7" y="5213.4">CP032608.2249631.2251185</text></g>
<g id="n551"><text x="21.7" y="5222.9">CP017577.4935297.4936852</text></g>
<g id="n552"><text x="21.7" y="5232.3">CP011151.308310.309865</text></g>
<g id="n553"><text x="21.7" y="5241.7">CP017577.4281700.4283255</text></g>
<g id="n554"><text x="21.7" y="5251.1">CP023245.150849.152403</text></g>
<g id="n555"><text x="21.7" y="5260.5">CP031642.310320.311875</text></g>
<g id="n556"><text x="21.7" y="5269.9">CP017577.4459862.4461417</text></g>
<g id="n557"><text x="21.7" y="5279.3">CP024655.5517674.5519228</text></g>
<g id="n558"><text x="21.7" y="5288.7">CP031642.293177.294732</text></g>
<g id="n559"><text x="21.7" y="5298.1">CP032608.1992063.1993617</text></g>
<g id="n560"><text x="21.7" y="5307.5">CP018931.5173738.5175269</text></g>
<g id="n561"><text x="21.7" y="5316.9">CP020723.4656115.4657669</text></g>
<g id="n562"><text x="21.7" y="5326.3">CP017577.4728573.4730128</text></g>
<g id="n563"><text x="21.7" y="5335.7">CP017577.4467589.4469144</text></g>
<g id="n564"><text x="21.7" y="5345.1">CP010089.5696616.5698171</text></g>
<g id="n565"><text x="21.7" y="5354.6">CP011151.297898.299453</text></g>
<g id="n566"><text x="21.7" y="5364">CP018933.191460.192991</text></g>
<g id="n567"><text x="21.7" y="5373.4">CP020754.3417264.3418819</text></g>
<g id="n568"><text x="21.7" y="5382.8">CP026678.2189136.2190691</text></g>
<g id="n569"><text x="21.7" y="5392.2">CP031643.82179.83734</text></g>
<g id="n570"><text x="21.7" y="5401.6">CP009318.363559.365098</text></g>
<g id="n571"><text x="21.7" y="5411">CFGZ01000105.394.1932</text></g>
<g id="n572"><text x="21.7" y="5420.4">CP001746.279287.280826</text></g>
<g id="n573"><text x="21.7" y="5429.8">ANPK01000008.28232.29804</text></g>
<g id="n574"><text x="127" y="5439.2">TSS20241101-2-73</text></g>
<g id="n575"><text x="35.1" y="5448.6">TSS20241101-3-94</text></g>
<g id="n576"><text x="32.6" y="5458">CFEQ01000210.2156.3877</text></g>
<g id="n577"><text x="21.7" y="5467.4">ABCZ02000037.4375.5648</text></g>
<g id="n578"><text x="21.7" y="5476.8">CP010106.262292.263831</text></g>
<g id="n579"><text x="22.3" y="5486.2">AE015929.1598006.1599559</text></g>
<g id="n580"><text x="22.3" y="5495.7">CP022247.382082.383637</text></g>
<g id="n581"><text x="22.3" y="5505.1">LT571449.239391.240921</text></g>
<g id="n582"><text x="22.3" y="5514.5">CP000029.1460720.1462273</text></g>
<g id="n583"><text x="22.3" y="5523.9">CP018842.2098559.2100114</text></g>
<g id="n584"><text x="22.3" y="5533.3">CP030246.976624.978176</text></g>
<g id="n585"><text x="22.3" y="5542.7">CP014119.42833.44385</text></g>
<g id="n586"><text x="22.3" y="5552.1">CP013943.1566959.1568514</text></g>
<g id="n587"><text x="22.3" y="5561.5">CP028282.1598163.1599693</text></g>
<g id="n588"><text x="22.7" y="5570.9">TSS20241101-1-40</text></g>
<g id="n589"><text x="22.7" y="5580.3">TSS20241101-1-18</text></g>
<g id="n590"><text x="49" y="5589.7">TSS20241101-1-50</text></g>
<g id="n591"><text x="22.7" y="5599.1">LT571449.1655704.1657234</text></g>
<g id="n592"><text x="30" y="5608.5">TSS20241101-1-37</text></g>
<g id="n593"><text x="32.7" y="5617.9">TSS20241101-1-72</text></g>
<g id="n594"><text x="36.7" y="5627.4">TSS20241101-1-32</text></g>
<g id="n595"><text x="37.7" y="5636.8">TSS20241101-1-69</text></g>
<g id="n596"><text x="31.7" y="5646.2">TSS20241101-2-18</text></g>
<g id="n597"><text x="36.7" y="5655.6">TSS20241101-1-63</text></g>
<g id="n598"><text x="36" y="5665">TSS20241101-1-20</text></g>
<g id="n599"><text x="30.7" y="5674.4">TSS20241101-1-54</text></g>
<g id="n600"><text x="116" y="5683.8">TSS20241101-4-25</text></g>
<g id="n601"><text x="22" y="5693.2">CP023074.2400953.2402518</text></g>
<g id="n602"><text x="22" y="5702.6">CP023074.2614697.2616262</text></g>
<g id="n603"><text x="22" y="5712">CP023074.2451612.2453177</text></g>
<g id="n604"><text x="22" y="5721.4">CP023074.2018749.2020314</text></g>
<g id="n605"><text x="22" y="5730.8">CP023074.393325.394890</text></g>
<g id="n606"><text x="22" y="5740.2">CP023074.816437.818002</text></g>
<g id="n607"><text x="22" y="5749.6">EF197994.1.1485</text></g>
<g id="n608"><text x="22" y="5759.1">TSS20241101-2-87</text></g>
<g id="n609"><text x="22" y="5768.5">KT262974.1.1447</text></g>
<g id="n610"><text x="22" y="5777.9">AY321376.1.1483</text></g>
<g id="n611"><text x="22" y="5787.3">AB681572.1.1486</text></g>
<g id="n612"><text x="19.3" y="5796.7">FJ613624.1.1526</text></g>
<g id="n613"><text x="17.7" y="5806.1">KY399766.1.1522</text></g>
<g id="n614"><text x="26" y="5815.5">TSS20241101-4-4</text></g>
<g id="n615"><text x="17.7" y="5824.9">TSS20241101-3-27</text></g>
<g id="n616"><text x="17.7" y="5834.3">TSS20241101-3-56</text></g>
<g id="n617"><text x="19" y="5843.7">EU010239.1.1450</text></g>
<g id="n618"><text x="24" y="5853.1">KY608578.1.1250</text></g>
<g id="n619"><text x="28.3" y="5862.5">KY608558.1.1300</text></g>
<g id="n620"><text x="19.3" y="5871.9">MF592274.1.1455</text></g>
<g id="n621"><text x="19.3" y="5881.3">KP230459.1.1505</text></g>
<g id="n622"><text x="93.3" y="5890.7">TSS20241101-3-11</text></g>
<g id="n623"><text x="34" y="5900.2">TSS20241101-4-12</text></g>
<g id="n624"><text x="28.3" y="5909.6">TSS20241101-3-90</text></g>
<g id="n625"><text x="25" y="5919">MG937679.1.1405</text></g>
<g id="n626"><text x="22.7" y="5928.4">KC788497.1.1325</text></g>
<g id="n627"><text x="34" y="5937.8">TSS20241101-1-65</text></g>
<g id="n628"><text x="22.7" y="5947.2">KC707546.1.1499</text></g>
<g id="n629"><text x="22.7" y="5956.6">JX080192.1.1389</text></g>
<g id="n630"><text x="19.3" y="5966">MF461052.1.1467</text></g>
<g id="n631"><text x="19.3" y="5975.4">KU221409.1.1457</text></g>
<g id="n632"><text x="18.3" y="5984.8">JF758864.1.1459</text></g>
</g>
</g>
</svg>
